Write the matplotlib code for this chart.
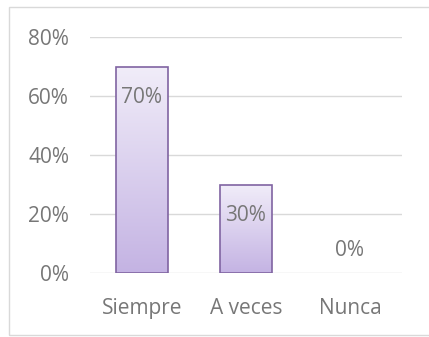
import matplotlib.pyplot as plt
import numpy as np
from matplotlib.patches import Rectangle
from matplotlib.ticker import PercentFormatter
from matplotlib.colors import LinearSegmentedColormap

categorias = ["Siempre", "A veces", "Nunca"]
valores = [70, 30, 0]
ticks_y = [0, 20, 40, 60, 80]

gris = "#777777"
plt.rcParams['font.family'] = ['Open Sans', 'DejaVu Sans']

fig = plt.figure(figsize=(4.29, 3.37), dpi=100)
ax = fig.add_axes([90 / 429, 1 - 273 / 337, 312 / 429, 236 / 337])

x = np.arange(len(categorias))
barras = ax.bar(x, valores, width=0.5, color="none", edgecolor="#8064a2",
                linewidth=1.2, zorder=3)

# degradado vertical dentro de cada barra
grad = np.linspace(0, 1, 256).reshape(-1, 1)
cmap = LinearSegmentedColormap.from_list("lila", ["#c4b3e3", "#f1edf9"])
for b in barras:
    if b.get_height() <= 0:
        b.set_edgecolor("none")
        continue
    x0, w, h = b.get_x(), b.get_width(), b.get_height()
    im = ax.imshow(grad, cmap=cmap, aspect="auto", origin="lower",
                   extent=[x0, x0 + w, 0, h], zorder=2)
    im.set_clip_path(b)

for xi, v in zip(x, valores):
    dy = -22 if v > 0 else 16
    ax.annotate(f"{v}%", (xi, v), xytext=(0, dy), textcoords="offset points",
                ha="center", va="center", fontsize=15, color=gris, zorder=4)

ax.set_xlim(-0.5, 2.5)
ax.set_ylim(0, 80)
ax.set_yticks(ticks_y)
ax.yaxis.set_major_formatter(PercentFormatter(decimals=0))
ax.set_xticks(x)
ax.set_xticklabels(categorias)
ax.tick_params(axis="both", length=0, labelsize=15, colors=gris)
ax.tick_params(axis="y", pad=15)
ax.tick_params(axis="x", pad=18)
ax.grid(axis="y", color="#d9d9d9", linewidth=1, zorder=0)
ax.set_axisbelow(True)
for s in ax.spines.values():
    s.set_visible(False)

# marco exterior del gráfico
fig.patches.append(Rectangle((9 / 429, 1 - 335 / 337), 425 / 429, 328 / 337,
                             transform=fig.transFigure, fill=False,
                             edgecolor="#d9d9d9", linewidth=1))

fig.savefig("out.png", dpi=100)
